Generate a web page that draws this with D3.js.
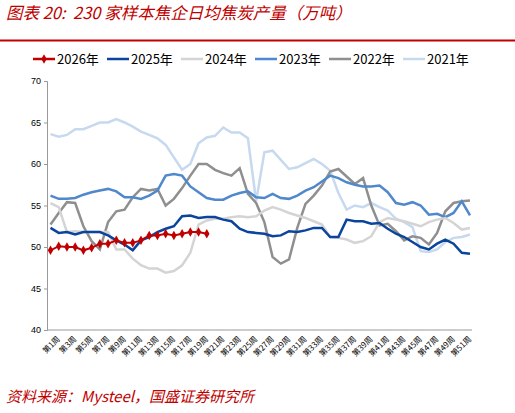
<!DOCTYPE html><html><head><meta charset="utf-8"><script src="https://cdn.jsdelivr.net/npm/d3@7"></script>
<style>body{margin:0;background:#fff}</style></head><body><svg id="c" width="515" height="413"></svg>
<script>
const weeks=d3.range(1,53).map(i=>"第"+i+"周");
const s2026=[49.6,50.1,50.0,50.0,49.6,49.9,50.4,50.4,50.8,50.5,50.5,50.8,51.4,51.4,51.6,51.4,51.6,51.8,51.8,51.6];
const s2025=[52.3,51.7,51.8,51.5,51.8,51.8,51.8,51.4,50.8,50.3,49.6,50.8,51.2,51.8,52.2,52.5,53.7,53.8,53.5,53.6,53.6,53.3,53.1,52.2,51.8,51.7,51.6,51.3,51.4,51.9,51.8,52.0,52.3,52.3,51.2,51.2,53.3,53.1,53.1,52.8,52.9,52.2,51.6,51.2,50.6,50.0,49.7,50.4,50.9,50.4,49.3,49.2];
const s2024=[55.3,54.8,51.8,51.9,51.8,51.8,51.8,51.8,49.7,49.7,48.6,47.8,47.4,47.4,46.9,47.1,47.8,49.3,52.7,53.2,53.4,53.4,53.6,53.7,53.6,53.7,54.4,54.8,54.5,54.1,53.8,53.5,53.1,52.7,51.2,51.1,50.9,50.5,50.7,51.3,53.0,53.5,53.3,53.1,52.8,52.5,53.0,53.3,53.5,52.9,52.1,52.3];
const s2023=[56.2,55.8,55.8,55.9,56.3,56.6,56.8,57.0,56.7,56.0,56.0,55.8,56.2,56.8,58.6,58.8,58.6,57.3,56.6,55.9,55.7,55.7,56.2,56.5,56.7,56.0,55.9,56.4,55.9,55.8,56.2,56.8,57.2,57.9,58.6,58.3,57.8,57.5,57.3,57.3,57.4,56.6,55.3,55.1,55.4,55.0,53.9,54.0,53.6,54.1,55.5,53.8];
const s2022=[52.7,54.1,55.4,55.3,52.5,50.7,49.7,53.0,54.3,54.5,56.0,57.0,56.8,57.0,55.0,55.8,57.1,58.6,60.0,60.0,59.3,58.9,58.6,59.5,56.4,55.3,53.0,48.8,48.0,48.5,52.3,55.2,56.2,57.4,59.1,59.4,58.5,57.6,58.3,55.0,52.6,52.8,51.9,50.8,51.3,51.1,50.3,51.7,54.3,55.3,55.5,55.6];
const s2021=[63.6,63.3,63.5,64.2,64.2,64.6,65.0,65.0,65.4,65.0,64.5,63.9,63.5,63.1,62.3,60.8,59.3,60.0,62.5,63.2,63.4,64.4,63.8,63.8,63.1,55.5,61.4,61.6,60.5,59.4,59.6,60.1,60.6,60.0,59.2,56.5,54.5,55.0,54.8,55.3,54.8,54.4,53.4,53.0,52.4,49.5,49.4,49.7,50.6,51.1,51.2,51.5];
const yTicks=[40,45,50,55,60,65,70];
const series=[
 {name:"2026年",data:s2026,color:"#c00000",w:2,marker:true},
 {name:"2025年",data:s2025,color:"#0b449c",w:2.5},
 {name:"2024年",data:s2024,color:"#d4d4d4",w:2.5},
 {name:"2023年",data:s2023,color:"#4f88cc",w:2.5},
 {name:"2022年",data:s2022,color:"#8f8f8f",w:2.5},
 {name:"2021年",data:s2021,color:"#c6d9ef",w:2.5}];
const svg=d3.select("#c");
svg.append("text").attr("x",6).attr("y",19).attr("fill","#c00000").attr("font-style","italic")
 .attr("font-family","Noto Sans CJK SC").attr("font-size",16.5).attr("xml:space","preserve").text("图表 20:  230 家样本焦企日均焦炭产量（万吨）");
svg.append("line").attr("x1",0).attr("x2",515).attr("y1",40.5).attr("y2",40.5).attr("stroke","#c00000").attr("stroke-width",2);
svg.append("text").attr("x",6).attr("y",402).attr("fill","#c00000").attr("font-style","italic")
 .attr("font-family","Noto Sans CJK SC").attr("font-size",15).text("资料来源：Mysteel，国盛证券研究所");
const x=d3.scalePoint().domain(weeks).range([50.5,470]);
const y=d3.scaleLinear().domain([40,70]).range([330,81]);
const ya=svg.append("g").attr("transform","translate(47,0)").call(d3.axisLeft(y).tickValues(yTicks).tickSize(3));
ya.selectAll("text").attr("font-family","Liberation Sans").attr("font-size",9).attr("fill","#000");
ya.select(".domain").attr("stroke","#999");ya.selectAll("line").attr("stroke","#999");
const xa=svg.append("g").attr("transform","translate(0,330)").call(d3.axisBottom(x).tickValues(weeks.filter((d,i)=>i%2==0)).tickSize(0));
xa.select(".domain").attr("stroke","#999").attr("d","M47,0H472");
xa.selectAll("text").attr("font-family","Noto Sans CJK SC").attr("font-size",8).attr("fill","#000")
 .attr("text-anchor","end").attr("transform","translate(4,4) rotate(-45)").attr("dy","0.6em");
const line=d3.line().x((d,i)=>x(weeks[i])).y(d=>y(d));
[...series].reverse().forEach(s=>{
 svg.append("path").attr("d",line(s.data)).attr("fill","none").attr("stroke",s.color).attr("stroke-width",s.w);
 if(s.marker) svg.selectAll(null).data(s.data).enter().append("path")
   .attr("d",d3.symbol(d3.symbolDiamond,26)).attr("transform",(d,i)=>`translate(${x(weeks[i])},${y(d)})`).attr("fill",s.color);
});
const lg=svg.append("g");
let lx=33;
series.forEach((s,i)=>{
 const g=lg.append("g").attr("transform",`translate(${lx+i*74},59)`);
 g.append("line").attr("x1",0).attr("x2",22).attr("stroke",s.color).attr("stroke-width",2.5);
 if(s.marker) g.append("path").attr("d",d3.symbol(d3.symbolDiamond,26)).attr("transform","translate(11,0)").attr("fill",s.color);
 g.append("text").attr("x",24).attr("y",5).attr("font-family","Noto Sans CJK SC").attr("font-size",13).text(s.name);
});
</script></body></html>
